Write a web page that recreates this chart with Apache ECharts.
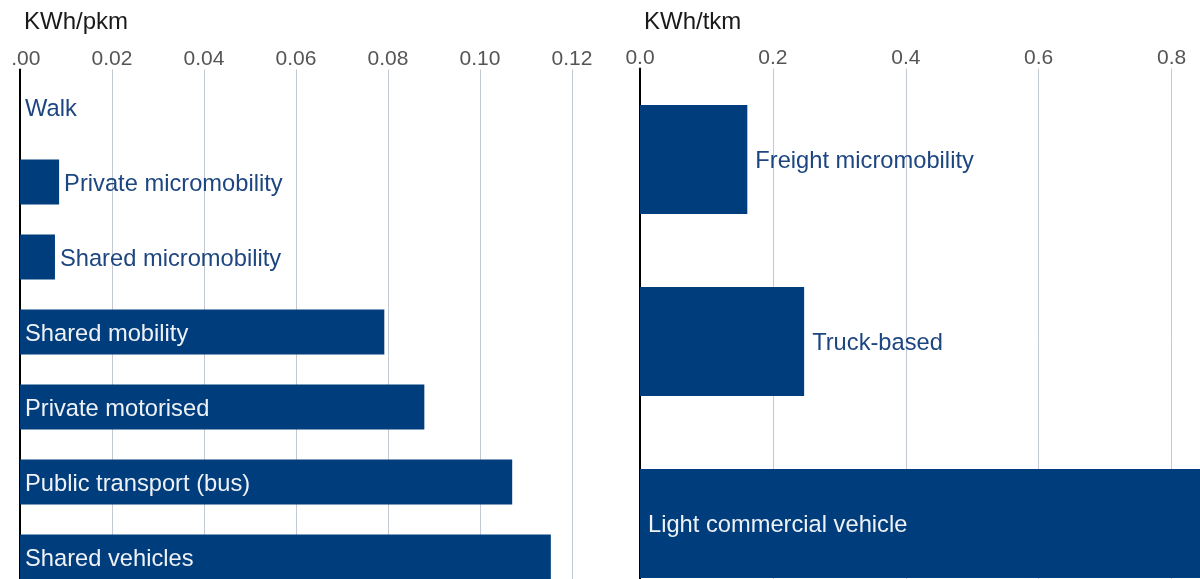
<!DOCTYPE html>
<html>
<head>
<meta charset="utf-8">
<script src="https://cdn.jsdelivr.net/npm/echarts@6/dist/echarts.min.js"></script>
<style>html,body{margin:0;padding:0;background:#fff;overflow:hidden;width:1200px;height:579px}#c{width:1340px;height:660px}</style>
</head>
<body>
<div id="c"></div>
<script>
// Passenger panel (KWh/pkm)
const passengerCategories = ['Walk','Private micromobility','Shared micromobility','Shared mobility','Private motorised','Public transport (bus)','Shared vehicles'];
const passengerValues = [0, 0.0085, 0.0076, 0.0792, 0.0879, 0.1070, 0.1154];
const passengerTicks = ['0.00','0.02','0.04','0.06','0.08','0.10','0.12'];
// Freight panel (KWh/tkm)
const freightCategories = ['Freight micromobility','Truck-based','Light commercial vehicle'];
const freightValues = [0.1615, 0.247, 1.0];
const freightTicks = ['0.0','0.2','0.4','0.6','0.8','1.0'];

const BAR = '#003d7c';
const LABEL_DARK = '#1d4680';
const FONT = 'Liberation Sans, Arial, sans-serif';

function makeData(vals, threshold, dist) {
  return vals.map(v => ({
    value: v,
    label: v > threshold
      ? {position: 'insideLeft', distance: dist, color: '#eef2f7'}
      : {position: 'right', distance: dist, color: LABEL_DARK}
  }));
}

const chart = echarts.init(document.getElementById('c'), null, {renderer: 'canvas'});
const xCommon = {
  type: 'value', position: 'top', min: 0,
  axisLine: {show: false}, axisTick: {show: false},
  splitLine: {show: true, lineStyle: {color: '#c3c9d1', width: 1}},
  axisLabel: {fontSize: 21, color: '#555555', fontFamily: FONT, margin: 0}
};
const yCommon = {
  type: 'category', inverse: true,
  axisLine: {show: true, lineStyle: {color: '#000', width: 2}},
  axisTick: {show: false}, axisLabel: {show: false}, splitLine: {show: false}
};
chart.setOption({
  animation: false,
  textStyle: {fontFamily: FONT},
  title: [
    {text: 'KWh/pkm', left: 19, top: 5, textStyle: {fontSize: 24, fontWeight: 'normal', color: '#1a1a1a', fontFamily: FONT}},
    {text: 'KWh/tkm', left: 639, top: 5, textStyle: {fontSize: 24, fontWeight: 'normal', color: '#1a1a1a', fontFamily: FONT}}
  ],
  grid: [
    {left: 20, top: 69.5, width: 552, height: 525, containLabel: false, outerBoundsMode: 'none'},
    {left: 640, top: 68.5, width: 664.5, height: 546, containLabel: false, outerBoundsMode: 'none'}
  ],
  xAxis: [
    Object.assign({}, xCommon, {gridIndex: 0, max: 0.12, interval: 0.02,
      axisLabel: Object.assign({}, xCommon.axisLabel, {formatter: (v) => passengerTicks[Math.round(v / 0.02)] || ''})}),
    Object.assign({}, xCommon, {gridIndex: 1, max: 1.0, interval: 0.2,
      axisLabel: Object.assign({}, xCommon.axisLabel, {formatter: (v) => freightTicks[Math.round(v / 0.2)] || ''})})
  ],
  yAxis: [
    Object.assign({}, yCommon, {gridIndex: 0, data: passengerCategories}),
    Object.assign({}, yCommon, {gridIndex: 1, data: freightCategories})
  ],
  series: [
    {type: 'bar', xAxisIndex: 0, yAxisIndex: 0, barCategoryGap: '40%',
     itemStyle: {color: BAR}, data: makeData(passengerValues, 0.05, 5),
     label: {show: true, fontSize: 23.7, fontFamily: FONT, offset: [0, 2], formatter: (p) => p.name}},
    {type: 'bar', xAxisIndex: 1, yAxisIndex: 1, barCategoryGap: '40%',
     itemStyle: {color: BAR}, data: makeData(freightValues, 0.5, 8),
     label: {show: true, fontSize: 23.7, fontFamily: FONT, offset: [0, 2], formatter: (p) => p.name}}
  ],
  graphic: [
    {type: 'rect', left: 0, top: 40, z: 100, shape: {width: 11, height: 28}, style: {fill: '#fff'}}
  ]
});
</script>
</body>
</html>
